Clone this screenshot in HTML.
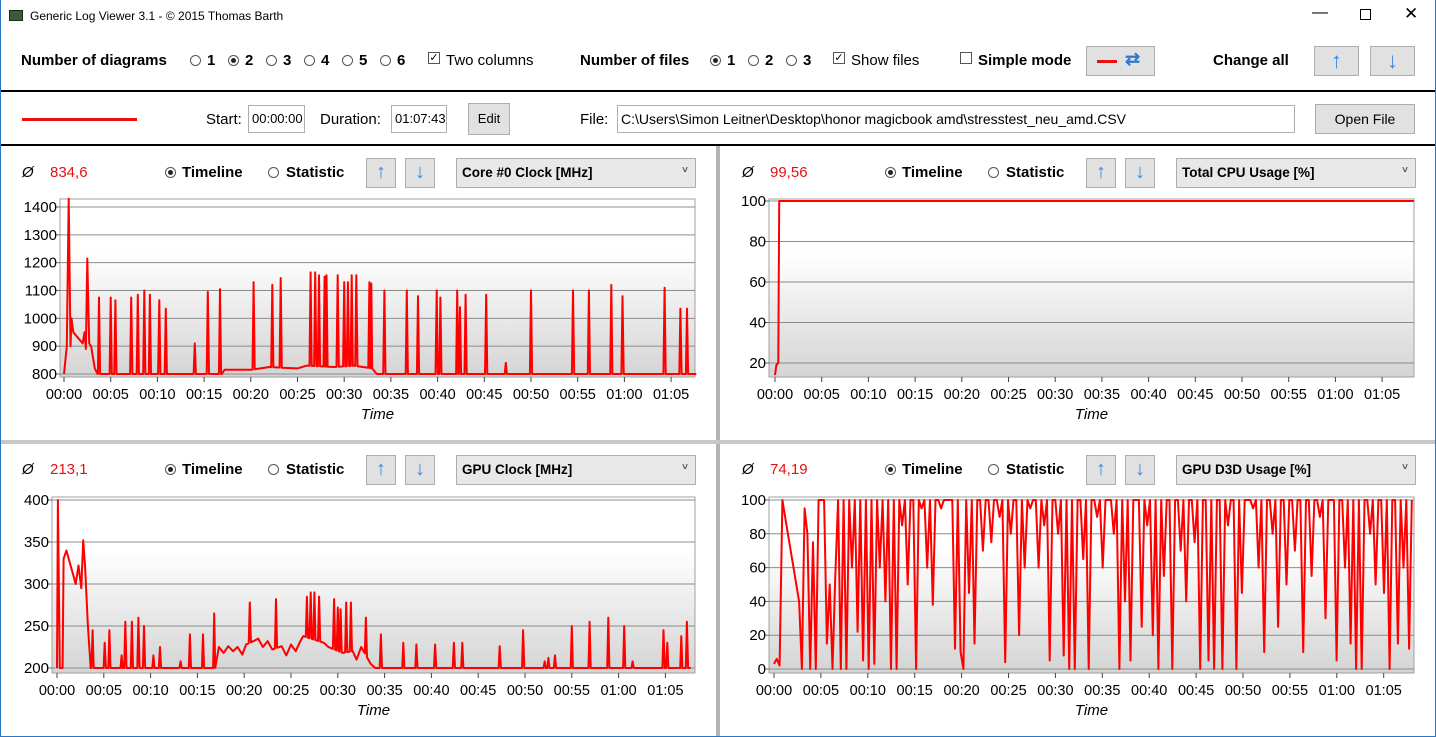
<!DOCTYPE html>
<html><head><meta charset="utf-8">
<style>
*{box-sizing:border-box;margin:0;padding:0}
body{width:1436px;height:737px;overflow:hidden;background:#fff;font-family:"Liberation Sans",sans-serif;color:#000;position:relative}
.a{position:absolute;white-space:nowrap}
.b{font-weight:bold;font-size:15px}
.t{font-size:15px}
.rad{position:absolute;width:11px;height:11px;border:1px solid #555;border-radius:50%;background:#fff}
.rad.on::after{content:"";position:absolute;left:2px;top:2px;width:5px;height:5px;border-radius:50%;background:#222}
.chk{position:absolute;width:12px;height:12px;border:1px solid #555;background:#fff;font-size:11px;line-height:10px;text-align:center}
.btn{position:absolute;background:#e1e1e1;border:1px solid #adadad;text-align:center;font-size:14px}
.inp{position:absolute;background:#fff;border:1px solid #abadb3;font-size:13px;padding-left:3px;line-height:26px}
.hl{position:absolute;background:#000;height:2px;left:1px;right:1px}
svg text{font-family:"Liberation Sans",sans-serif}
</style></head><body>
<div class="a" style="left:0;top:0;width:1px;height:737px;background:#2b79c6"></div>
<div class="a" style="right:0;top:0;width:1px;height:737px;background:#2b79c6"></div>
<div class="a" style="left:0;bottom:0;width:1436px;height:1px;background:#2b79c6"></div>
<div class="a" style="left:9px;top:10px;width:14px;height:11px;background:#3d5a3d;border:1px solid #222"></div>
<div class="a" style="left:30px;top:9px;font-size:12px">Generic Log Viewer 3.1 - © 2015 Thomas Barth</div>
<div class="a" style="left:1312px;top:4px;font-size:16px">—</div>
<div class="a" style="left:1360px;top:9px;width:11px;height:11px;border:1px solid #000"></div>
<div class="a" style="left:1404px;top:4px;font-size:17px">✕</div>

<div class="a b" style="left:21px;top:52px">Number of diagrams</div>
<div class="rad" style="left:190px;top:55px"></div><div class="a b" style="left:207px;top:52px">1</div>
<div class="rad on" style="left:228px;top:55px"></div><div class="a b" style="left:245px;top:52px">2</div>
<div class="rad" style="left:266px;top:55px"></div><div class="a b" style="left:283px;top:52px">3</div>
<div class="rad" style="left:304px;top:55px"></div><div class="a b" style="left:321px;top:52px">4</div>
<div class="rad" style="left:342px;top:55px"></div><div class="a b" style="left:359px;top:52px">5</div>
<div class="rad" style="left:380px;top:55px"></div><div class="a b" style="left:397px;top:52px">6</div>
<div class="chk" style="left:428px;top:52px">✓</div><div class="a t" style="left:446px;top:52px">Two columns</div>
<div class="a b" style="left:580px;top:52px">Number of files</div>
<div class="rad on" style="left:710px;top:55px"></div><div class="a b" style="left:727px;top:52px">1</div>
<div class="rad" style="left:748px;top:55px"></div><div class="a b" style="left:765px;top:52px">2</div>
<div class="rad" style="left:786px;top:55px"></div><div class="a b" style="left:803px;top:52px">3</div>
<div class="chk" style="left:833px;top:52px">✓</div><div class="a t" style="left:851px;top:52px">Show files</div>
<div class="chk" style="left:960px;top:52px"></div><div class="a b" style="left:978px;top:52px">Simple mode</div>
<div class="btn" style="left:1086px;top:46px;width:69px;height:30px"><div class="a" style="left:10px;top:13px;width:20px;height:3px;background:#e81010"></div><div class="a" style="left:38px;top:2px;font-size:18px;color:#2a7ad0;font-weight:bold">⇄</div></div>
<div class="a b" style="left:1213px;top:52px">Change all</div>
<div class="btn" style="left:1314px;top:46px;width:45px;height:30px;color:#3a8be0;font-size:22px;line-height:27px;font-weight:bold">↑</div>
<div class="btn" style="left:1370px;top:46px;width:45px;height:30px;color:#3a8be0;font-size:22px;line-height:27px;font-weight:bold">↓</div>
<div class="hl" style="top:90px"></div>

<div class="a" style="left:22px;top:118px;width:115px;height:3px;background:#e81010"></div>
<div class="a t" style="left:206px;top:111px">Start:</div>
<div class="inp" style="left:248px;top:105px;width:57px;height:28px">00:00:00</div>
<div class="a t" style="left:320px;top:111px">Duration:</div>
<div class="inp" style="left:391px;top:105px;width:56px;height:28px">01:07:43</div>
<div class="btn" style="left:468px;top:103px;width:42px;height:32px;line-height:30px;font-size:13px">Edit</div>
<div class="a t" style="left:580px;top:111px">File:</div>
<div class="inp" style="left:617px;top:105px;width:678px;height:28px;font-size:14px">C:\Users\Simon Leitner\Desktop\honor magicbook amd\stresstest_neu_amd.CSV</div>
<div class="btn" style="left:1315px;top:104px;width:100px;height:30px;line-height:28px">Open File</div>
<div class="hl" style="top:144px"></div>

<div class="a" style="left:716px;top:146px;width:4px;height:590px;background:#b4b4b4"></div>
<div class="a" style="left:1px;top:440px;width:1434px;height:4px;background:#c8c8c8"></div>

<div id="headers"></div>
<svg id="charts" width="1436" height="737" style="position:absolute;left:0;top:0;pointer-events:none">
<defs><linearGradient id="pg" x1="0" y1="0" x2="0" y2="1"><stop offset="0" stop-color="#ffffff"/><stop offset="0.3" stop-color="#ffffff"/><stop offset="1" stop-color="#d4d4d4"/></linearGradient></defs>
</svg>

<script>
// ---- Chart 1: Core #0 Clock [MHz]
const c1BaseTimes = [0,0.3,0.5,0.7,0.8,1.0,1.5,2.0,2.2,2.35,2.5,2.7,2.9,3.3,3.6,16.9,17.2,20,22,25,26,29,31,33,33.5,67.7];
const c1BaseValues= [800,900,1430,900,1000,950,930,910,950,890,1215,910,900,820,800,800,815,815,825,820,830,825,830,820,800,800];
const c1SpikeTimes = [3.75,5.0,5.5,7.2,7.9,8.6,9.2,10.2,10.9,14.0,15.4,16.7,20.3,22.3,23.2,26.4,26.9,27.3,27.9,28.1,29.3,30.0,30.4,30.8,31.3,32.7,32.9,34.3,36.7,37.9,39.9,40.3,42.1,42.4,43.0,45.2,47.3,50.0,54.5,56.2,58.6,59.8,64.3,66.0,66.7];
const c1SpikeValues= [1075,1075,1065,1075,1085,1100,1085,1065,1035,910,1095,1105,1130,1120,1145,1165,1165,1155,1150,1155,1155,1130,1130,1155,1155,1130,1125,1100,1100,1080,1100,1075,1100,1040,1085,1085,840,1100,1100,1100,1120,1080,1110,1035,1035];
const c1Ticks = [800,900,1000,1100,1200,1300,1400];
const c1Avg = "834,6";
// ---- Chart 2: Total CPU Usage [%]
const c2Times = [0,0.15,0.35,0.45,68.4];
const c2Values= [14,19,20,100,100];
const c2Ticks = [20,40,60,80,100];
const c2Avg = "99,56";
// ---- Chart 3: GPU Clock [MHz]
const c3BaseTimes = [0,0.1,0.3,0.6,0.7,1.0,2.0,2.3,2.6,2.8,3.0,3.3,3.6,16.9,17.3,17.8,18.3,18.8,19.3,19.8,20.2,21.0,21.5,22.0,22.5,23.0,24.0,24.5,25.0,25.5,26.0,26.3,28.5,29.0,30.5,31.6,32.0,32.5,33.5,34.0,67.7];
const c3BaseValues= [200,400,200,200,330,340,300,322,295,352,320,250,200,200,225,218,226,220,225,216,228,232,235,225,232,222,226,215,228,220,232,238,230,225,218,220,210,225,205,200,200];
const c3SpikeTimes = [3.8,5.1,5.6,6.9,7.3,8.0,8.7,9.3,10.3,11.0,13.2,14.2,15.6,16.8,20.6,23.4,26.7,27.1,27.5,28.0,29.6,30.0,30.3,30.9,31.4,33.0,34.6,37.0,38.4,40.4,42.4,43.3,47.3,49.8,52.1,52.5,53.2,55.0,56.9,58.9,60.6,61.5,64.8,65.2,66.7,67.3];
const c3SpikeValues= [245,230,245,215,255,255,260,250,215,225,208,240,240,265,278,282,285,290,290,285,282,272,270,278,278,260,240,230,228,228,230,230,226,245,208,212,215,250,255,260,250,208,245,230,238,255];
const c3Ticks = [200,250,300,350,400];
const c3Avg = "213,1";
// ---- Chart 4: GPU D3D Usage [%]
const c4Values = [3,6,2,100,90,80,70,60,50,40,0,95,80,0,75,0,100,100,100,15,50,0,55,100,0,100,0,100,60,100,22,100,5,100,0,100,3,100,60,100,40,100,0,100,0,100,85,100,50,100,100,0,100,95,100,60,100,38,100,100,95,100,100,100,100,12,100,10,0,100,45,100,15,100,100,70,100,100,75,100,100,90,100,4,100,80,100,100,20,100,60,100,95,100,100,60,100,85,100,5,100,100,80,100,8,100,0,100,0,100,100,65,100,0,100,100,90,100,60,100,100,100,80,100,0,100,40,100,5,100,100,100,25,100,85,100,20,100,0,100,55,100,100,0,100,100,70,100,40,100,100,75,100,0,100,100,5,100,0,100,100,0,100,85,100,100,0,100,45,100,100,100,95,100,60,100,10,100,100,80,100,25,100,100,50,100,100,70,100,100,10,100,100,55,100,100,90,100,30,100,100,100,5,100,100,60,100,15,100,0,100,0,100,100,80,100,50,100,100,45,100,0,100,100,15,100,60,100,12,100];
const c4Ticks = [0,20,40,60,80,100];
const c4Avg = "74,19";
const c4Duration = 68.0;
const timeTicks = [0,5,10,15,20,25,30,35,40,45,50,55,60,65];

function spikes(bt,bv,st,sv){
  const pts=[];
  for(let i=0;i<bt.length;i++)pts.push([bt[i],bv[i]]);
  function baseAt(t){for(let i=0;i<bt.length-1;i++){if(t>=bt[i]&&t<=bt[i+1]){const f=(t-bt[i])/(bt[i+1]-bt[i]);return bv[i]+f*(bv[i+1]-bv[i]);}}return bv[bv.length-1];}
  for(let i=0;i<st.length;i++){pts.push([st[i]-0.12,baseAt(st[i]-0.12)]);pts.push([st[i],sv[i]]);pts.push([st[i]+0.12,baseAt(st[i]+0.12)]);}
  pts.sort((a,b)=>a[0]-b[0]);return pts;
}
const NS="http://www.w3.org/2000/svg";
const svg=document.getElementById('charts');
function el(tag,attrs,parent){const e=document.createElementNS(NS,tag);for(const k in attrs)e.setAttribute(k,attrs[k]);(parent||svg).appendChild(e);return e;}
function fmt(m){return "0"+Math.floor(m/60)+":"+String(m%60).padStart(2,"0");}

function drawChart(cfg,pts,ticks,name){
  const g=el('g',{});
  
  
  const xs=t=>cfg.x0+t*cfg.pxm;
  const ys=v=>cfg.yA+(v-cfg.vA)*(cfg.yB-cfg.yA)/(cfg.vB-cfg.vA);
  const bg=el('rect',{x:cfg.l,y:cfg.t,width:cfg.r-cfg.l,height:cfg.b-cfg.t,fill:'url(#pg)',stroke:'#a0a0a0'},g);
  
  
  ticks.forEach(v=>{
    const y=ys(v);
    const gl=el('line',{x1:cfg.l,x2:cfg.r,y1:y,y2:y,stroke:'#8c8c8c','stroke-width':1},g);
    
    
    el('line',{x1:cfg.l-4,x2:cfg.l,y1:y,y2:y,stroke:'#666'},g);
    const tx=el('text',{x:cfg.l-3,y:y+5,'text-anchor':'end','font-size':15,fill:'#000'},g);
    tx.textContent=v;
    
    
  });
  timeTicks.forEach(m=>{
    const x=xs(m);
    el('line',{x1:x,x2:x,y1:cfg.b,y2:cfg.b+5,stroke:'#444'},g);
    const tx=el('text',{x:x,y:cfg.b+22,'text-anchor':'middle','font-size':14.5,fill:'#000'},g);
    tx.textContent=fmt(m);
    
    
  });
  const xt=el('text',{x:(cfg.l+cfg.r)/2,y:cfg.b+42,'text-anchor':'middle','font-size':15,'font-style':'italic'},g);
  xt.textContent='Time';
  
  
  const d=pts.map((p,i)=>(i?'L':'M')+xs(p[0]).toFixed(1)+' '+ys(Math.max(Math.min(p[1],cfg.vmax),cfg.vmin)).toFixed(1)).join(' ');
  const ln=el('path',{d:d,fill:'none',stroke:'#ff0000','stroke-width':2,'stroke-linejoin':'round'},g);
  
  
}
const p1=spikes(c1BaseTimes,c1BaseValues,c1SpikeTimes,c1SpikeValues);
drawChart({l:60,t:199,r:695,b:377,x0:64,pxm:9.34,vA:800,yA:374,vB:1400,yB:207,vmin:790,vmax:1435},p1,c1Ticks,'core-clock');
drawChart({l:769,t:199,r:1414,b:377,x0:775,pxm:9.34,vA:20,yA:363,vB:100,yB:201,vmin:12,vmax:100},c2Times.map((t,i)=>[t,c2Values[i]]),c2Ticks,'cpu-usage');
const p3=spikes(c3BaseTimes,c3BaseValues,c3SpikeTimes,c3SpikeValues);
drawChart({l:52,t:497,r:695,b:673,x0:57,pxm:9.36,vA:200,yA:668,vB:400,yB:500,vmin:198,vmax:404},p3,c3Ticks,'gpu-clock');
drawChart({l:769,t:497,r:1414,b:673,x0:774,pxm:9.38,vA:0,yA:669,vB:100,yB:500,vmin:0,vmax:100},c4Values.map((v,i)=>[i*c4Duration/(c4Values.length-1),v]),c4Ticks,'gpu-d3d');

// headers
const H=document.getElementById('headers');
function header(ox,oy,avg,title,name){
  const wrap=document.createElement('div');
  
  
  wrap.innerHTML=
   '<div class="a t" style="left:'+(ox+22)+'px;top:'+(oy-9)+'px;font-style:italic">Ø</div>'+
   '<div class="a t" style="left:'+(ox+50)+'px;top:'+(oy-9)+'px;color:#e81010">'+avg+'</div>'+
   '<div class="rad on" style="left:'+(ox+165)+'px;top:'+(oy-6)+'px"></div>'+
   '<div class="a b" style="left:'+(ox+182)+'px;top:'+(oy-9)+'px">Timeline</div>'+
   '<div class="rad" style="left:'+(ox+268)+'px;top:'+(oy-6)+'px"></div>'+
   '<div class="a b" style="left:'+(ox+286)+'px;top:'+(oy-9)+'px">Statistic</div>'+
   '<div class="btn" style="left:'+(ox+366)+'px;top:'+(oy-15)+'px;width:30px;height:30px;color:#3a8be0;font-size:20px;line-height:27px;font-weight:bold">↑</div>'+
   '<div class="btn" style="left:'+(ox+405)+'px;top:'+(oy-15)+'px;width:30px;height:30px;color:#3a8be0;font-size:20px;line-height:27px;font-weight:bold">↓</div>'+
   '<div class="btn" style="left:'+(ox+456)+'px;top:'+(oy-15)+'px;width:240px;height:30px;text-align:left;padding-left:5px;line-height:28px;font-weight:bold;font-size:13.5px;background:#e8e8e8">'+title+'<span style="position:absolute;right:7px;top:-2px;font-size:10px;color:#555">˅</span></div>';
  H.appendChild(wrap);
}
header(0,173,c1Avg,'Core #0 Clock [MHz]','core-clock');
header(720,173,c2Avg,'Total CPU Usage [%]','cpu-usage');
header(0,470,c3Avg,'GPU Clock [MHz]','gpu-clock');
header(720,470,c4Avg,'GPU D3D Usage [%]','gpu-d3d');
</script>
</body></html>
